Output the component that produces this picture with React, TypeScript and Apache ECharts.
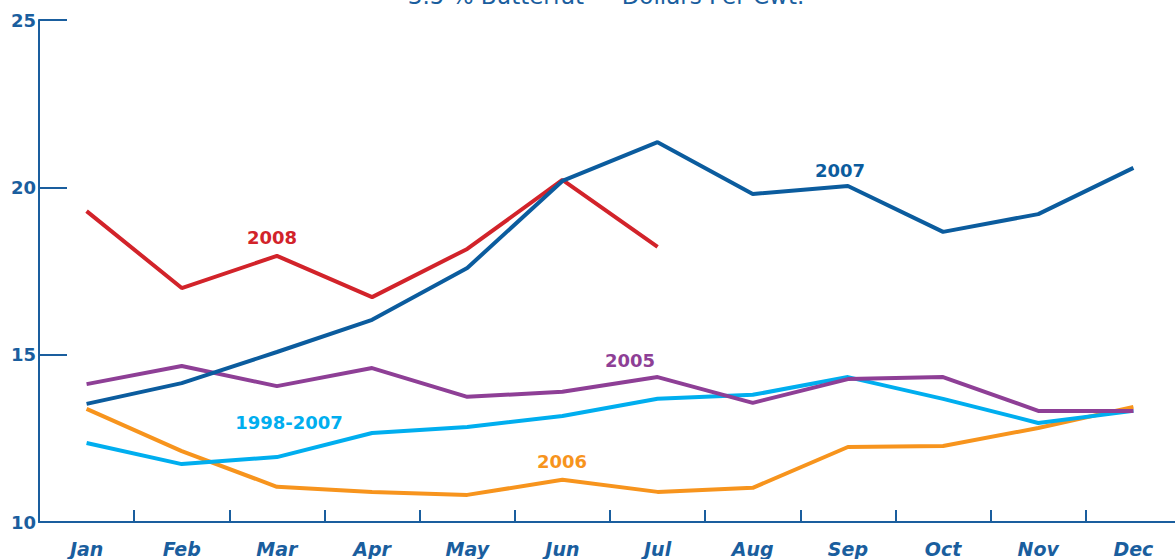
import React, { useEffect, useRef } from "react";
import * as echarts from "echarts";

const months = ["Jan", "Feb", "Mar", "Apr", "May", "Jun", "Jul", "Aug", "Sep", "Oct", "Nov", "Dec"];
const yTicks = [10, 15, 20, 25];

const s2007 = [13.53, 14.15, 15.08, 16.04, 17.59, 20.19, 21.35, 19.8, 20.04, 18.67, 19.2, 20.58];
const s2008 = [19.29, 16.99, 17.95, 16.72, 18.16, 20.22, 18.22];
const s2005 = [14.12, 14.66, 14.06, 14.6, 13.74, 13.89, 14.33, 13.56, 14.27, 14.33, 13.32, 13.32];
const sAvg = [12.36, 11.73, 11.94, 12.66, 12.84, 13.17, 13.68, 13.8, 14.33, 13.68, 12.96, 13.32];
const s2006 = [13.38, 12.12, 11.05, 10.9, 10.81, 11.26, 10.9, 11.02, 12.24, 12.27, 12.81, 13.44];

const seriesNames = ["2007", "2008", "2005", "1998-2007", "2006"];
const seriesColors = ["#0b5c9e", "#d2232a", "#8e3f96", "#00aeef", "#f7941d"];
const seriesData = [s2007, s2008, s2005, sAvg, s2006];

const AXIS = "#1a5e9e";
const BOLD_FONT = "DejaVu Sans, Verdana, sans-serif";

export default function App() {
  const ref = useRef<HTMLDivElement>(null);
  useEffect(() => {
    document.body.style.margin = "0";
    document.body.style.overflow = "hidden";
    const chart = echarts.init(ref.current!, null, { renderer: "svg" });
    const labelFont = { fontFamily: BOLD_FONT, fontWeight: "bold" as const, fontSize: 18 };
    chart.setOption({
      animation: false,
      grid: { left: 39, right: 9, top: 20, bottom: 37, containLabel: false },
      xAxis: {
        type: "category",
        data: months,
        boundaryGap: true,
        axisLine: { lineStyle: { color: AXIS, width: 2 } },
        axisTick: { show: true, inside: true, length: 12, interval: 0, lineStyle: { color: AXIS, width: 2 } },
        axisLabel: {
          color: AXIS,
          fontFamily: BOLD_FONT,
          fontWeight: "bold",
          fontStyle: "italic",
          fontSize: 19,
          margin: 17,
          interval: 0,
        },
        splitLine: { show: false },
      },
      yAxis: {
        type: "value",
        min: yTicks[0],
        max: yTicks[yTicks.length - 1],
        interval: 5,
        axisLine: { show: true, lineStyle: { color: AXIS, width: 2 } },
        axisTick: { show: true, inside: true, length: 28, lineStyle: { color: AXIS, width: 2 } },
        axisLabel: { color: AXIS, margin: 3, ...labelFont },
        splitLine: { show: false },
      },
      series: seriesData.map((d, i) => ({
        name: seriesNames[i],
        type: "line",
        data: d,
        symbol: "none",
        lineStyle: { color: seriesColors[i], width: 4 },
        z: 10 - i,
      })),
      graphic: [
        {
          type: "text",
          style: {
            text: "3.5 % Butterfat — Dollars Per Cwt.",
            x: 606,
            y: -4,
            align: "center",
            verticalAlign: "middle",
            fill: AXIS,
            fontSize: 23,
            fontFamily: "DejaVu Sans, sans-serif",
          },
        },
        { type: "text", style: { text: "2008", x: 272, y: 237, align: "center", verticalAlign: "middle", fill: seriesColors[1], ...labelFont } },
        { type: "text", style: { text: "2007", x: 840, y: 170, align: "center", verticalAlign: "middle", fill: seriesColors[0], ...labelFont } },
        { type: "text", style: { text: "2005", x: 630, y: 360, align: "center", verticalAlign: "middle", fill: seriesColors[2], ...labelFont } },
        { type: "text", style: { text: "1998-2007", x: 289, y: 422, align: "center", verticalAlign: "middle", fill: seriesColors[3], ...labelFont } },
        { type: "text", style: { text: "2006", x: 562, y: 461, align: "center", verticalAlign: "middle", fill: seriesColors[4], ...labelFont } },
      ],
    });
    return () => chart.dispose();
  }, []);
  return <div ref={ref} style={{ width: 1190, height: 559 }} />;
}
